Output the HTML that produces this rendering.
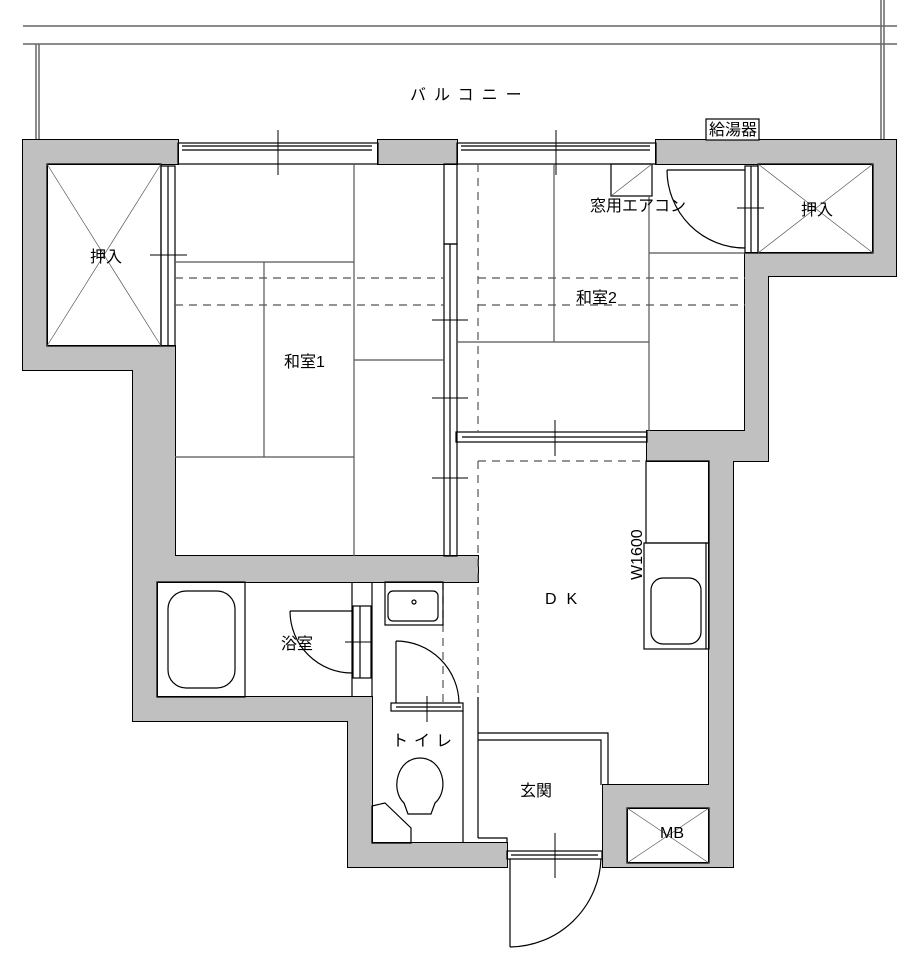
<!DOCTYPE html>
<html><head><meta charset="utf-8"><style>
html,body{margin:0;padding:0;background:#fff}
svg{display:block}
text{font-family:"Liberation Sans","Noto Sans CJK JP",sans-serif;font-size:16px;fill:#000}
</style></head><body>
<svg width="920" height="970" viewBox="0 0 920 970" xmlns="http://www.w3.org/2000/svg">
<g stroke="#666" stroke-width="1.5" fill="none">
<line x1="23" y1="26" x2="897" y2="26"/>
<line x1="23" y1="44" x2="897" y2="44"/>
<line x1="36" y1="44" x2="36" y2="140"/><line x1="39" y1="44" x2="39" y2="140"/>
<line x1="881" y1="0" x2="881" y2="140"/><line x1="884" y1="0" x2="884" y2="140"/>
</g>
<g stroke="#000" stroke-width="2" fill="#c0c0c0">
<rect x="23" y="140" width="155" height="24"/>
<rect x="23" y="140" width="24" height="230"/>
<rect x="23" y="346" width="152" height="24"/>
<rect x="133" y="346" width="42" height="236"/>
<rect x="133" y="556" width="24" height="165"/>
<rect x="133" y="556" width="345" height="26"/>
<rect x="133" y="697" width="239" height="24"/>
<rect x="348" y="697" width="24" height="170"/>
<rect x="348" y="843" width="159" height="24"/>
<rect x="378" y="140" width="79" height="24"/>
<rect x="656" y="140" width="240" height="24"/>
<rect x="873" y="140" width="23" height="136"/>
<rect x="745" y="253" width="151" height="23"/>
<rect x="745" y="253" width="23" height="208"/>
<rect x="647" y="431" width="121" height="30"/>
<rect x="709" y="431" width="24" height="436"/>
<rect x="603" y="785" width="130" height="23"/>
<rect x="603" y="785" width="24" height="82"/>
<rect x="603" y="863" width="130" height="4"/>
</g>
<g fill="#c0c0c0">
<rect x="23" y="140" width="155" height="24"/>
<rect x="23" y="140" width="24" height="230"/>
<rect x="23" y="346" width="152" height="24"/>
<rect x="133" y="346" width="42" height="236"/>
<rect x="133" y="556" width="24" height="165"/>
<rect x="133" y="556" width="345" height="26"/>
<rect x="133" y="697" width="239" height="24"/>
<rect x="348" y="697" width="24" height="170"/>
<rect x="348" y="843" width="159" height="24"/>
<rect x="378" y="140" width="79" height="24"/>
<rect x="656" y="140" width="240" height="24"/>
<rect x="873" y="140" width="23" height="136"/>
<rect x="745" y="253" width="151" height="23"/>
<rect x="745" y="253" width="23" height="208"/>
<rect x="647" y="431" width="121" height="30"/>
<rect x="709" y="431" width="24" height="436"/>
<rect x="603" y="785" width="130" height="23"/>
<rect x="603" y="785" width="24" height="82"/>
<rect x="603" y="863" width="130" height="4"/>
</g>
<g stroke="#000" stroke-width="1.2" fill="none">
<rect x="47" y="164" width="114" height="182"/>
<rect x="758" y="164" width="115" height="89"/>
<rect x="627" y="808" width="82" height="55"/>
<rect x="178" y="143" width="200" height="21"/>
<line x1="182" y1="146" x2="372" y2="146"/><line x1="182" y1="150" x2="372" y2="150"/>
<rect x="457" y="143" width="199" height="21"/>
<line x1="461" y1="146" x2="650" y2="146"/><line x1="461" y1="150" x2="650" y2="150"/>
<rect x="161" y="166" width="14" height="180"/><line x1="168" y1="166" x2="168" y2="346"/>
<rect x="745" y="166" width="13" height="87"/><line x1="751" y1="166" x2="751" y2="253"/>
<rect x="444" y="164" width="13" height="80"/>
<rect x="444" y="244" width="13" height="312"/>
<line x1="450" y1="244" x2="450" y2="556"/>
<rect x="456" y="432" width="191" height="10"/>
<line x1="462" y1="437" x2="647" y2="437"/>
<rect x="611" y="164" width="41" height="32"/>
</g>
<g stroke="#555" stroke-width="0.7" fill="none">
<line x1="47" y1="164" x2="161" y2="346"/><line x1="161" y1="164" x2="47" y2="346"/>
<line x1="758" y1="164" x2="873" y2="253"/><line x1="873" y1="164" x2="758" y2="253"/>
<line x1="627" y1="808" x2="709" y2="863"/><line x1="709" y1="808" x2="627" y2="863"/>
<line x1="611" y1="196" x2="652" y2="164"/>
</g>
<g stroke="#555" stroke-width="1.2" fill="none">
<line x1="354" y1="164" x2="354" y2="556"/>
<line x1="175" y1="262" x2="354" y2="262"/>
<line x1="264" y1="262" x2="264" y2="457"/>
<line x1="175" y1="457" x2="354" y2="457"/>
<line x1="354" y1="360" x2="444" y2="360"/>
<line x1="554" y1="164" x2="554" y2="342"/>
<line x1="457" y1="342" x2="649" y2="342"/>
<line x1="649" y1="196" x2="649" y2="431"/>
<line x1="649" y1="253" x2="745" y2="253"/>
</g>
<g stroke="#555" stroke-width="1.2" fill="none" stroke-dasharray="8,6">
<line x1="175" y1="278" x2="444" y2="278"/>
<line x1="175" y1="305" x2="444" y2="305"/>
<line x1="478" y1="278" x2="745" y2="278"/>
<line x1="478" y1="305" x2="745" y2="305"/>
<line x1="478" y1="164" x2="478" y2="431"/>
<line x1="478" y1="461" x2="478" y2="697"/>
<line x1="478" y1="461" x2="647" y2="461"/>
<line x1="443" y1="582" x2="443" y2="705"/>
</g>
<g stroke="#000" stroke-width="1.2" fill="none">
<line x1="667" y1="170" x2="745" y2="170"/>
<path d="M667 170 A78 78 0 0 0 745 248"/>
<rect x="157" y="582" width="88" height="115"/>
<rect x="168" y="591" width="67" height="97" rx="18"/>
<line x1="352" y1="582" x2="352" y2="697"/><line x1="372" y1="582" x2="372" y2="697"/>
<rect x="353" y="606" width="18" height="72"/><line x1="360" y1="606" x2="360" y2="678"/>
<line x1="290" y1="611" x2="352" y2="611"/>
<path d="M290 611 A62 62 0 0 0 352 673"/>
<rect x="385" y="582" width="58" height="43"/>
<rect x="388" y="591" width="50" height="30" rx="5"/>
<circle cx="414" cy="602" r="2"/>
<rect x="391" y="703" width="72" height="8"/>
<line x1="396" y1="707" x2="461" y2="707"/>
<line x1="396" y1="641" x2="396" y2="703"/>
<path d="M396 641 A63 63 0 0 1 459 703"/>
<line x1="463" y1="711" x2="463" y2="843"/>
<line x1="478" y1="697" x2="478" y2="838"/>
<path d="M408 814 L404 803 C390 790 397 758 420 758 C443 758 450 790 435 803 L431 814 Z"/>
<path d="M372 806 L385 803 L411 828 L411 843 L372 843 Z"/>
<path d="M478 838 L507 838 L507 843"/>
<polyline points="478,733 608,733 608,785"/>
<polyline points="478,740 601,740 601,785"/>
<rect x="507" y="851" width="95" height="8"/>
<line x1="511" y1="855" x2="598" y2="855"/>
<line x1="510" y1="859" x2="510" y2="947"/>
<path d="M510 947 A92 92 0 0 0 601 859"/>
<rect x="646" y="461" width="63" height="82"/>
<rect x="644" y="543" width="65" height="106"/>
<line x1="706" y1="543" x2="706" y2="649"/>
<rect x="651" y="578" width="50" height="66" rx="12"/>
<rect x="706" y="119" width="53" height="21" fill="#fff"/>
</g>
<g stroke="#000" stroke-width="1">
<line x1="278" y1="130" x2="278" y2="175"/>
<line x1="556" y1="130" x2="556" y2="175"/>
<line x1="555" y1="420" x2="555" y2="456"/>
<line x1="150" y1="255" x2="187" y2="255"/>
<line x1="737" y1="208" x2="764" y2="208"/>
<line x1="432" y1="320" x2="468" y2="320"/>
<line x1="432" y1="398" x2="468" y2="398"/>
<line x1="432" y1="478" x2="468" y2="478"/>
<line x1="345" y1="642" x2="372" y2="642"/>
<line x1="427" y1="696" x2="427" y2="722"/>
<line x1="555" y1="833" x2="555" y2="878"/>
</g>
<text x="410" y="100" letter-spacing="8">バルコニー</text>
<text x="709" y="135" font-size="13">給湯器</text>
<text x="90" y="262" font-size="14">押入</text>
<text x="801" y="215" font-size="14">押入</text>
<text x="284" y="367">和室1</text>
<text x="576" y="303">和室2</text>
<text x="590" y="211" font-size="14">窓用エアコン</text>
<text x="545" y="604" letter-spacing="10">DK</text>
<text x="281" y="649">浴室</text>
<text x="392" y="746" letter-spacing="6">トイレ</text>
<text x="520" y="796">玄関</text>
<text x="660" y="838" font-size="11">MB</text>
<text transform="translate(642,580) rotate(-90)" font-size="12">W1600</text>
</svg>
</body></html>
